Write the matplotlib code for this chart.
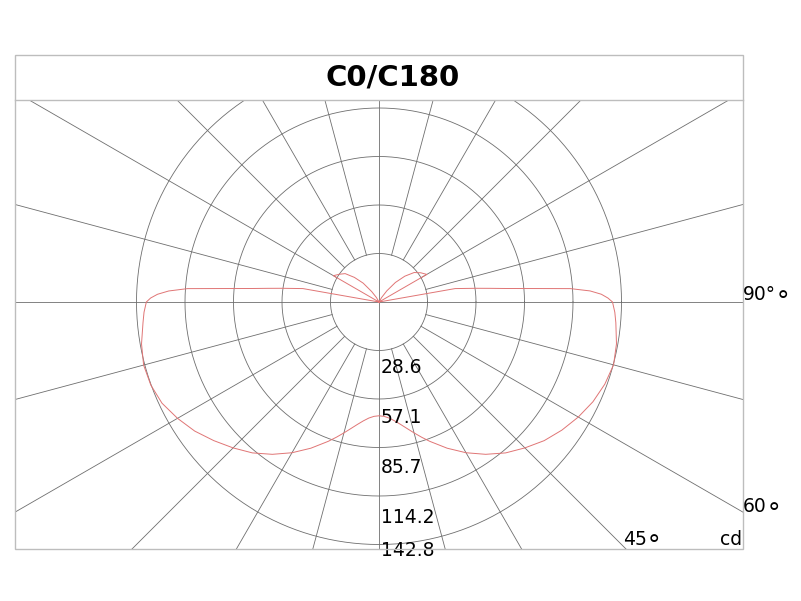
import numpy as np
import matplotlib
matplotlib.use("Agg")
import matplotlib.pyplot as plt
from matplotlib.patches import Rectangle
from matplotlib.lines import Line2D

# ---- data -------------------------------------------------------------
title = "C0/C180"
ring_labels = ["28.6", "57.1", "85.7", "114.2", "142.8"]
ring_values = [28.56, 57.12, 85.68, 114.24, 142.8]
angle_labels = ["90°", "60", "45"]
degree_sign = "°"
unit_label = "cd"

gamma = [0, 2.5, 5, 7.5, 10, 12.5, 15, 17.5, 20, 25, 30, 35, 40, 45, 50, 55, 60,
         65, 70, 75, 80, 85, 87.5, 90, 91, 92, 93, 94, 95, 96, 97, 98, 99, 100,
         105, 110, 115, 120, 125, 130, 135, 140, 145, 150, 155, 160, 165, 170,
         175, 180]
c0 = [67, 67.4, 68.6, 70.6, 73.2, 76.3, 79.8, 83.5, 87.3, 95, 102.5, 109.5,
      116, 121.5, 127, 131.5, 135.5, 139, 141.5, 143, 142, 140, 139, 137.5,
      134.8, 131, 124.5, 113, 91, 76, 66, 58, 51, 45.5, 0, 0, 0, 32.5, 30, 27,
      21.5, 15, 8, 3, 0, 0, 0, 0, 0, 0]
c180 = [67, 67.4, 68.6, 70.6, 73.2, 76.3, 79.8, 83.5, 87.3, 95, 102.5, 109.5,
        116, 121.5, 127, 132.5, 137, 141, 143, 143.5, 142, 139.5, 138.5, 137,
        134.5, 130.5, 124, 113, 91, 76, 66, 58, 51, 45.5, 0, 0, 0, 31, 28.5,
        26, 20.5, 14.5, 7.5, 3, 0, 0, 0, 0, 0, 0]

# ---- figure -----------------------------------------------------------
W, H = 801, 601
fig = plt.figure(figsize=(W / 100, H / 100), dpi=100)
fig.patch.set_facecolor("white")

px = 242.5 / 142.8  # pixels per cd
cx, cy = 379, 302   # centre in pixels (from top-left)
left, right, top, bottom = 15, 743, 100, 549
ax = fig.add_axes([left / W, (H - bottom) / H, (right - left) / W, (bottom - top) / H])
ax.set_xlim((left - cx) / px, (right - cx) / px)
ax.set_ylim(-(bottom - cy) / px, (cy - top) / px)
ax.set_aspect("auto")
ax.axis("off")

grid_col = "#6e6e6e"
# circles
t = np.linspace(0, 2 * np.pi, 721)
for r in ring_values:
    ax.plot(r * np.cos(t), r * np.sin(t), color=grid_col, lw=0.6)
# radial lines every 15 degrees
for a in range(0, 360, 15):
    rad = np.deg2rad(a)
    r0 = 0 if a % 90 == 0 else ring_values[0]
    ax.plot([r0 * np.cos(rad), 600 * np.cos(rad)], [r0 * np.sin(rad), 600 * np.sin(rad)],
            color=grid_col, lw=0.6)

# intensity curve
g = np.deg2rad(np.array(gamma, dtype=float))
i0 = np.array(c0)
i180 = np.array(c180)
x_r, y_r = i0 * np.sin(g), -i0 * np.cos(g)
x_l, y_l = -i180 * np.sin(g), -i180 * np.cos(g)
xs = np.concatenate([x_l[::-1], x_r])
ys = np.concatenate([y_l[::-1], y_r])
ax.plot(xs, ys, color="#e07575", lw=0.7)

# ring labels
tops_px = [358, 408, 458, 508, 541.5]
for lab, tp in zip(ring_labels, tops_px):
    ax.text((381 - cx) / px, -(tp - cy) / px, lab, fontsize=13.5, ha="left", va="top",
            color="black")

# angle labels (digits + a mid-height degree ring)
fs = 13.5
renderer = fig.canvas.get_renderer()


def angle_label(x_px, base_px, text):
    tt = fig.text(x_px / W, 1 - base_px / H, text, fontsize=fs, ha="left", va="baseline")
    bb = tt.get_window_extent(renderer=renderer)
    fig.text((bb.x1 + 0.5) / W, 1 - (base_px + 8.5) / H, degree_sign, fontsize=18,
             ha="left", va="baseline")


angle_label(743, 300.5, angle_labels[0])
angle_label(743, 512.5, angle_labels[1])
angle_label(623, 545, angle_labels[2])
fig.text(742 / W, 1 - 545 / H, unit_label, fontsize=fs, ha="right", va="baseline")

# frame boxes
box_col = "#bdbdbd"
fig.add_artist(Rectangle((left / W, (H - bottom) / H), (right - left) / W, (bottom - 55) / H,
                         transform=fig.transFigure, fill=False, ec=box_col, lw=1))
fig.add_artist(Line2D([left / W, right / W], [(H - top) / H, (H - top) / H],
                      transform=fig.transFigure, color=box_col, lw=1))
fig.text(393 / W, (H - 78) / H, title, fontsize=21, fontweight="bold", ha="center", va="center")

fig.savefig("out.png", dpi=100)
